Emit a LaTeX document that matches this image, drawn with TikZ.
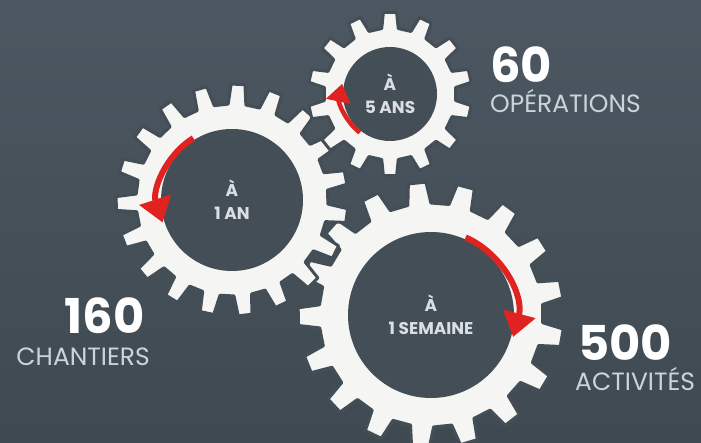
\documentclass[tikz,border=0pt]{standalone}
\usepackage{fontspec}
\setmainfont{Poppins}
\usetikzlibrary{calc,arrows.meta}

\definecolor{bgtop}{HTML}{4C5761}
\definecolor{bgbottom}{HTML}{3F4951}
\definecolor{bgdark}{HTML}{444E57}
\definecolor{gearwhite}{HTML}{F5F5F3}
\definecolor{hubtext}{HTML}{DADFE3}
\definecolor{captext}{HTML}{C9D4DC}
\definecolor{arrowred}{HTML}{E02320}

\begin{document}
\begin{tikzpicture}
[
x=1pt, y=1pt,
gearbody/.style={fill=gearwhite, draw=bgdark, line width=3pt, line join=round},
hub/.style={circle, fill=bgdark, text=hubtext, align=center, inner sep=0pt,
  font=\bfseries\fontsize{17}{23}\selectfont},
turn/.style={draw=arrowred, line width=6pt, -{Triangle[width=32pt,length=24pt]}},
turnsmall/.style={draw=arrowred, line width=4.5pt, -{Triangle[width=24pt,length=18pt]}},
count/.style={font=\bfseries\fontsize{48}{48}\selectfont, text=white, inner sep=0pt},
caption/.style={font=\fontsize{25}{25}\selectfont, text=captext, inner sep=0pt},
]
% background
\shade[top color=bgtop, bottom color=bgbottom] (0,0) rectangle (701,442);
\useasboundingbox (0,0) rectangle (701,442);

% gears: centre x / centre y / teeth / root radius / tip radius / phase
\foreach \cx/\cy/\n/\rr/\ro/\ph in {431/127/17/112/133/96, 232/242/19/96/116/87, 390/348/14/66/82/90}{
  \pgfmathsetmacro\pitch{360/\n}
  \pgfmathsetmacro\wr{0.28*\pitch}
  \pgfmathsetmacro\wt{0.18*\pitch}
  \pgfmathtruncatemacro\last{\n-1}
  \begin{scope}[shift={(\cx,\cy)}]
    \path[gearbody] ({\ph-\wr}:\rr)
      \foreach \k [evaluate=\k as \a using {\ph+\k*\pitch}] in {0,...,\last}{
        -- ({\a-\wr}:\rr) -- ({\a-\wt}:\ro) -- ({\a+\wt}:\ro) -- ({\a+\wr}:\rr)
      } -- cycle;
  \end{scope}
}

% hubs
\node[hub, minimum size=166pt] (semaine) at (431,127) {À\\1 SEMAINE};
\node[hub, minimum size=142pt] (an) at (232,242) {À\\1 AN};
\node[hub, minimum size=94pt] (ans) at (390,348) {À\\5 ANS};

% turning arrows
\draw[turn] ($(semaine)+(66:85)$) arc[start angle=66, end angle=-15, radius=85];
\draw[turn] ($(an)+(122:73)$) arc[start angle=122, end angle=198, radius=73];
\draw[turnsmall] ($(ans)+(232:49)$) arc[start angle=232, end angle=168, radius=49];

% figures
\node[count, anchor=base west] (n60) at (490,359) {60};
\node[caption, anchor=base west] (ops) at (490,329) {OPÉRATIONS};
\node[count, anchor=base east] (n160) at (145,109) {160};
\node[caption, anchor=base east] (chant) at (150,77) {CHANTIERS};
\node[count, anchor=base west] (n500) at (578,82) {500};
\node[caption, anchor=base west] (act) at (575,52) {ACTIVITÉS};
\end{tikzpicture}
\end{document}
